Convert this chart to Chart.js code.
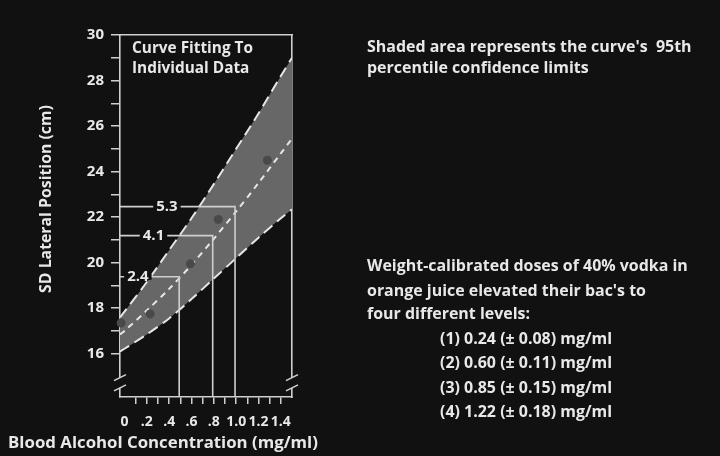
<!DOCTYPE html>
<html>
<head>
<meta charset="utf-8">
<script src="https://cdn.jsdelivr.net/npm/chart.js@4.4.1/dist/chart.umd.min.js"></script>
<style>
  html, body { margin: 0; padding: 0; background: #111; }
  #wrap { width: 720px; height: 456px; position: relative; }
</style>
</head>
<body>
<div id="wrap"><canvas id="bacChart"></canvas></div>
<script>
// values
const bac = [-0.04, 0, 0.2, 0.4, 0.6, 0.8, 1.0, 1.2, 1.4, 1.5];
const upperLimit = [17.6, 17.85, 19.15, 20.55, 21.95, 23.45, 25.0, 26.55, 28.2, 29.0];
const fitCurve = [16.85, 17.0, 17.9, 18.85, 19.9, 21.05, 22.25, 23.5, 24.8, 25.45];
const lowerLimit = [16.1, 16.22, 16.85, 17.55, 18.4, 19.3, 20.2, 21.1, 21.95, 22.35];

const subjectBac = [-0.03, 0.23, 0.59, 0.84, 1.28];
const subjectSd = [17.35, 17.75, 19.95, 21.9, 24.5];

const limitBac = [0.49, 0.79, 0.99];
const limitSd = [19.38, 21.19, 22.46];
const limitLabels = ['2.4', '4.1', '5.3'];

const yTicks = [16, 17, 18, 19, 20, 21, 22, 23, 24, 25, 26, 27, 28, 29, 30];
const yLabelled = [16, 18, 20, 22, 24, 26, 28, 30];
const xTicks = [0, 0.1, 0.2, 0.3, 0.4, 0.5, 0.6, 0.7, 0.8, 0.9, 1.0, 1.1, 1.2, 1.3, 1.4];
const xLabelValues = [0, 0.2, 0.4, 0.6, 0.8, 1.0, 1.2, 1.4];
const xLabelText = ['0', '.2', '.4', '.6', '.8', '1.0', '1.2', '1.4'];

const X_MIN = -0.04, X_MAX = 1.5, Y_MIN = 14.1, Y_MAX = 30;

const BG = '#111';
const INK = '#e8e8e8';
const LINE = '#cfcfcf';
const FONT = '"Open Sans", "DejaVu Sans", sans-serif';

function pts(xs, ys) {
    return xs.map((x, i) => ({ x: x, y: ys[i] }));
}

// font size that makes text as wide as it is in the picture
function fitSize(ctx, text, width, weight) {
    ctx.font = weight + ' 20px ' + FONT;
    return 20 * width / ctx.measureText(text).width;
}

const guideSets = limitBac.map((b, i) => ({
    label: 'limit ' + limitLabels[i],
    data: [{ x: X_MIN, y: limitSd[i] }, { x: b, y: limitSd[i] }, { x: b, y: Y_MIN }],
    borderColor: LINE,
    borderWidth: 1.6,
    pointRadius: 0,
    fill: false,
    tension: 0,
    order: 2
}));

// labels on the horizontal guides and the axis breaks
const guideLabelPos = [0.12, 0.26, 0.38];

const decorations = {
    id: 'decorations',
    afterDatasetsDraw(chart) {
        const { ctx, scales: { x, y } } = chart;
        ctx.save();
        ctx.font = 'bold 15px ' + FONT;
        ctx.textAlign = 'center';
        ctx.textBaseline = 'middle';
        limitLabels.forEach((t, i) => {
            const px = x.getPixelForValue(guideLabelPos[i]);
            const py = y.getPixelForValue(limitSd[i]);
            const w = ctx.measureText(t).width + 6;
            ctx.fillStyle = BG;
            ctx.fillRect(px - w / 2, py - 3, w, 6);
            ctx.fillStyle = INK;
            ctx.fillText(t, px, py);
        });
        ctx.restore();
    },
    afterDraw(chart) {
        const { ctx, chartArea: a, scales: { y } } = chart;
        ctx.save();
        const y1 = y.getPixelForValue(14.95);
        const y2 = y.getPixelForValue(14.5);
        [a.left, a.right].forEach(px => {
            ctx.fillStyle = BG;
            ctx.fillRect(px - 3, y1, 6, y2 - y1);
            ctx.strokeStyle = LINE;
            ctx.lineWidth = 1.6;
            [y1, y2].forEach(py => {
                ctx.beginPath();
                ctx.moveTo(px - 6, py + 3);
                ctx.lineTo(px + 6, py - 3);
                ctx.stroke();
            });
        });

        ctx.fillStyle = INK;
        ctx.textBaseline = 'middle';
        ctx.textAlign = 'left';

        let s = fitSize(ctx, 'Curve Fitting To', 121, 'bold');
        ctx.font = 'bold ' + s + 'px ' + FONT;
        ctx.fillText('Curve Fitting To', 132, 49);
        ctx.fillText('Individual Data', 132, 69);

        s = fitSize(ctx, 'Weight-calibrated doses of 40% vodka in', 321, 'bold');
        ctx.font = 'bold ' + s + 'px ' + FONT;
        ctx.fillText("Shaded area represents the curve's  95th", 367, 47);
        ctx.fillText('percentile confidence limits', 367, 68);
        ctx.fillText('Weight-calibrated doses of 40% vodka in', 367, 266);
        ctx.fillText("orange juice elevated their bac's to", 367, 291);
        ctx.fillText('four different levels:', 367, 314);
        ctx.fillText('(1) 0.24 (\u00b1 0.08) mg/ml', 440, 339);
        ctx.fillText('(2) 0.60 (\u00b1 0.11) mg/ml', 440, 363);
        ctx.fillText('(3) 0.85 (\u00b1 0.15) mg/ml', 440, 388);
        ctx.fillText('(4) 1.22 (\u00b1 0.18) mg/ml', 440, 412);

        ctx.textAlign = 'center';
        s = fitSize(ctx, 'Blood Alcohol Concentration (mg/ml)', 310, 'bold');
        ctx.font = 'bold ' + s + 'px ' + FONT;
        ctx.fillText('Blood Alcohol Concentration (mg/ml)', 163, 443);

        s = fitSize(ctx, 'SD Lateral Position (cm)', 188, 'bold');
        ctx.font = 'bold ' + s + 'px ' + FONT;
        ctx.translate(46, 199);
        ctx.rotate(-Math.PI / 2);
        ctx.fillText('SD Lateral Position (cm)', 0, 0);
        ctx.restore();
    }
};

const dashed = {
    borderColor: '#e6e6e6',
    borderWidth: 2,
    pointRadius: 0,
    tension: 0.3
};

new Chart(document.getElementById('bacChart'), {
    type: 'line',
    data: {
        datasets: [
            Object.assign({ label: 'upper 95%', data: pts(bac, upperLimit), borderDash: [11, 6],
                fill: '+1', backgroundColor: '#676767', order: 5 }, dashed),
            Object.assign({ label: 'lower 95%', data: pts(bac, lowerLimit), borderDash: [11, 6],
                fill: false, order: 4 }, dashed),
            Object.assign({ label: 'fit', data: pts(bac, fitCurve), borderDash: [6, 5],
                fill: false, order: 3 }, dashed),
            ...guideSets,
            {
                label: 'subjects',
                data: pts(subjectBac, subjectSd),
                showLine: false,
                pointRadius: 4.5,
                pointBackgroundColor: '#494949',
                pointBorderWidth: 0,
                clip: false,
                order: 1
            }
        ]
    },
    options: {
        responsive: true,
        maintainAspectRatio: false,
        animation: false,
        layout: { padding: { left: 0, top: 35, right: 428, bottom: 0 } },
        plugins: {
            legend: { display: false },
            tooltip: { enabled: false }
        },
        scales: {
            x: {
                type: 'linear',
                min: X_MIN,
                max: X_MAX,
                afterBuildTicks: sc => { sc.ticks = xTicks.map(v => ({ value: v })); },
                afterFit: sc => { sc.height = 59; },
                grid: {
                    drawOnChartArea: false,
                    tickLength: 7,
                    lineWidth: 1.5,
                    color: c => (c.tick && c.tick.value === 0) ? 'rgba(0,0,0,0)' : LINE
                },
                border: { color: LINE, width: 1.6 },
                ticks: {
                    autoSkip: false,
                    maxRotation: 0,
                    padding: 10,
                    color: INK,
                    font: { family: FONT, size: 14, weight: 'bold' },
                    callback: v => {
                        const i = xLabelValues.findIndex(t => Math.abs(t - v) < 1e-6);
                        return i < 0 ? '' : xLabelText[i];
                    }
                }
            },
            x2: {
                type: 'linear',
                position: 'top',
                min: X_MIN,
                max: X_MAX,
                afterFit: sc => { sc.height = 0; },
                grid: { drawOnChartArea: false, drawTicks: false },
                border: { color: LINE, width: 1.6 },
                ticks: { display: false }
            },
            y: {
                min: Y_MIN,
                max: Y_MAX,
                afterBuildTicks: sc => { sc.ticks = yTicks.map(v => ({ value: v })); },
                afterFit: sc => { sc.width = 120; },
                grid: {
                    drawOnChartArea: false,
                    tickLength: 9,
                    lineWidth: 1.5,
                    color: LINE
                },
                border: { color: LINE, width: 1.6 },
                ticks: {
                    autoSkip: false,
                    padding: 7,
                    color: INK,
                    font: { family: FONT, size: 15, weight: 'bold' },
                    callback: v => yLabelled.includes(v) ? String(v) : ''
                }
            },
            y2: {
                position: 'right',
                min: Y_MIN,
                max: Y_MAX,
                afterFit: sc => { sc.width = 0; },
                grid: { drawOnChartArea: false, drawTicks: false },
                border: { color: LINE, width: 1.6 },
                ticks: { display: false }
            }
        }
    },
    plugins: [decorations]
});
</script>
</body>
</html>
